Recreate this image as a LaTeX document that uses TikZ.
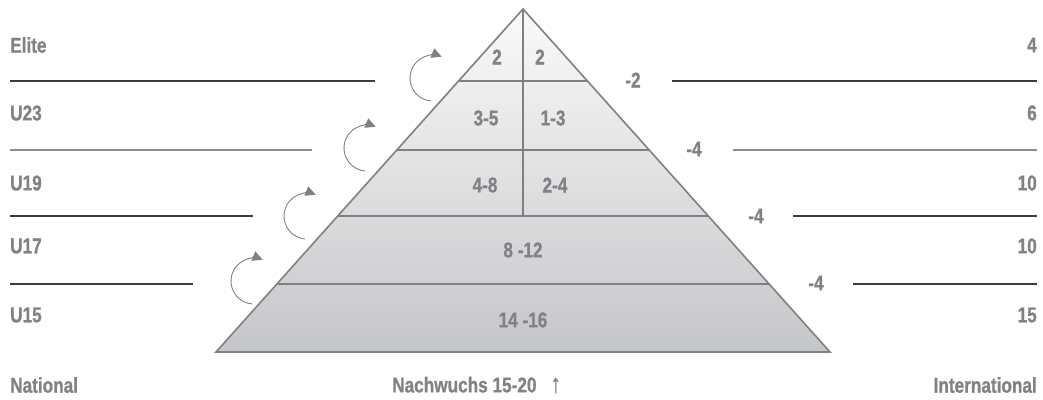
\documentclass[tikz,border=0pt]{standalone}
\usepackage{fontspec}
\setmainfont{Liberation Sans Bold}[FakeStretch=0.8, FakeBold=0.8]
\usepackage{tikz}
\usetikzlibrary{arrows.meta, positioning, calc}
\definecolor{txtgray}{HTML}{808285}
\definecolor{edgegray}{HTML}{7F8083}
\definecolor{rulegray}{HTML}{3C3C3E}
\definecolor{rulelight}{HTML}{8C8D90}
\definecolor{pyrtop}{HTML}{FAFAFA}
\definecolor{pyrbot}{HTML}{C5C6C8}
\tikzset{
    lbl/.style={text=txtgray, font=\fontsize{21.5}{24}\selectfont, inner sep=0pt},
    cell/.style={lbl},
    rule/.style={draw=rulegray, line width=1.1pt},
    rulelt/.style={draw=rulelight, line width=1.4pt},
    pyr/.style={draw=edgegray, line width=1.6pt, line join=miter},
    turn/.style={draw=edgegray, line width=0.9pt, -{Triangle[length=10pt, width=10pt]}},
}

\begin{document}
\begin{tikzpicture}[x=1pt, y=-1pt]
    \useasboundingbox (0,0) rectangle (1043,399);
    % pyramid
    \coordinate (apex) at (523,9);
    \coordinate (bl) at (216,352);
    \coordinate (br) at (830,352);
    \shade[top color=pyrtop, bottom color=pyrbot] (apex) -- (bl) -- (br) -- cycle;
    \draw[pyr] ($(apex)!0.21!(bl)$) -- ($(apex)!0.21!(br)$);
    \draw[pyr] ($(apex)!0.411!(bl)$) -- ($(apex)!0.411!(br)$);
    \draw[pyr] ($(apex)!0.6035!(bl)$) -- ($(apex)!0.6035!(br)$);
    \draw[pyr] ($(apex)!0.8017!(bl)$) -- ($(apex)!0.8017!(br)$);
    \draw[pyr] (apex) -- (523,216);
    \draw[pyr] (apex) -- (bl) -- (br) -- cycle;

    % cells
    \node[cell] (c1l) at (497,57) {2};
    \node[cell] (c1r) at (540,57) {2};
    \node[cell] (c2l) at (486,118) {3-5};
    \node[cell] (c2r) at (553,118) {1-3};
    \node[cell] (c3l) at (485,185) {4-8};
    \node[cell] (c3r) at (555,185) {2-4};
    \node[cell] (c4) at (523,250) {8 -12};
    \node[cell] (c5) at (523,320) {14 -16};

    % left side
    \node[lbl, anchor=west] (elite) at (10,45) {Elite};
    \node[lbl, anchor=west] (u23) at (10,113) {U23};
    \node[lbl, anchor=west] (u19) at (10,183) {U19};
    \node[lbl, anchor=west] (u17) at (10,246) {U17};
    \node[lbl, anchor=west] (u15) at (10,315) {U15};
    \draw[rule] (10,81) -- (375,81);
    \draw[rulelt] (10,150) -- (312,150);
    \draw[rule] (10,216) -- (253,216);
    \draw[rule] (10,284) -- (193,284);

    % right side
    \node[lbl, anchor=east] (n1) at (1037,45) {4};
    \node[lbl, anchor=east] (n2) at (1037,113) {6};
    \node[lbl, anchor=east] (n3) at (1037,183) {10};
    \node[lbl, anchor=east] (n4) at (1037,246) {10};
    \node[lbl, anchor=east] (n5) at (1037,315) {15};
    \node[lbl] (d1) at (633,80) {-2};
    \node[lbl] (d2) at (694,149) {-4};
    \node[lbl] (d3) at (756,216) {-4};
    \node[lbl] (d4) at (816,283) {-4};
    \draw[rule] (672,81) -- (1037,81);
    \draw[rulelt] (733,150) -- (1037,150);
    \draw[rule] (793,216) -- (1037,216);
    \draw[rule] (853,284) -- (1037,284);

    % turn arrows
    \coordinate (t1) at (431,101);
    \coordinate (t2) at (365,171);
    \coordinate (t3) at (305,239);
    \coordinate (t4) at (252,304);
    \draw[turn] (t1) arc[start angle=95, end angle=292, radius=23];
    \draw[turn] (t2) arc[start angle=95, end angle=292, radius=23];
    \draw[turn] (t3) arc[start angle=95, end angle=292, radius=23];
    \draw[turn] (t4) arc[start angle=95, end angle=292, radius=23];

    % bottom
    \node[lbl, anchor=west] (nat) at (10,385) {National};
    \node[lbl, anchor=west] (nach) at (392,385) {Nachwuchs 15-20\hspace{14pt}{\fontsize{26}{28}\selectfont ↑}};
    \node[lbl, anchor=east] (intl) at (1037,385) {International};
\end{tikzpicture}
\end{document}
